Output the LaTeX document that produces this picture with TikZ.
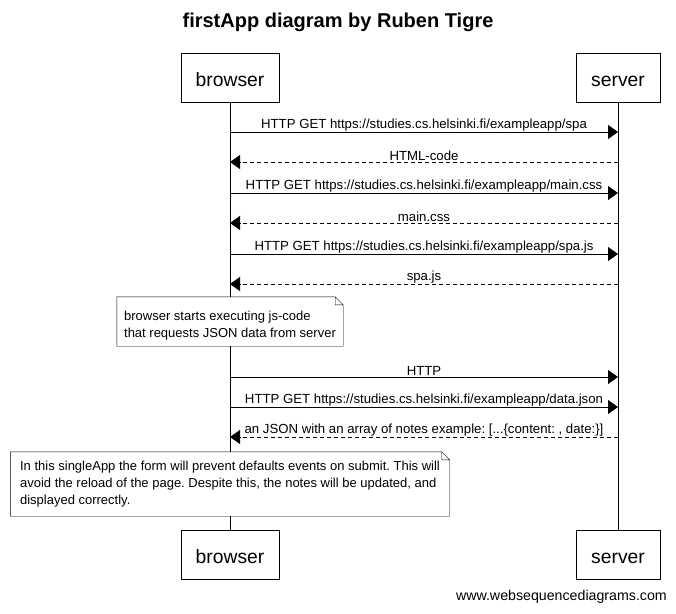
\documentclass[tikz,border=0pt]{standalone}
\usepackage{fontspec}
\setmainfont{Liberation Sans}
\usetikzlibrary{arrows.meta}
\usetikzlibrary{calc}
\usetikzlibrary{positioning}
\tikzset{>={Triangle[length=10pt,width=14pt]}}
\newcommand{\msgfont}{\fontsize{13.2}{17}\selectfont\frenchspacing}
\newcommand{\notefont}{\fontsize{13}{17}\selectfont\frenchspacing}

\begin{document}
\begin{tikzpicture}[x=1pt,y=-1pt,
  actor/.style={draw,rectangle,minimum height=49pt,text height=17pt,text depth=0pt,font=\fontsize{19.3}{23}\selectfont},
  req/.style={->},
  reply/.style={->,dash pattern=on 4pt off 3pt},
  msglabel/.style={font=\msgfont,inner sep=1pt},
  note/.style={fill=white,align=left,font=\notefont,anchor=center,inner sep=0pt}]

\useasboundingbox (0,0) rectangle (676,613);

\node (title) at (338,22) {\fontsize{20}{24}\selectfont\bfseries firstApp diagram by Ruben Tigre};

\node (browserTop) [actor,minimum width=98pt] at (230,77.5) {browser};
\node (serverTop) [actor,minimum width=84pt] at (618,77.5) {server};
\node (browserBot) [actor,minimum width=98pt] at (230,554.5) {browser};
\node (serverBot) [actor,minimum width=84pt] at (618,554.5) {server};

\draw (browserTop) -- (browserBot);
\draw (serverTop) -- (serverBot);

\foreach \y/\txt in {132/{HTTP GET https://studies.cs.helsinki.fi/exampleapp/spa},
                     193/{HTTP GET https://studies.cs.helsinki.fi/exampleapp/main.css},
                     254/{HTTP GET https://studies.cs.helsinki.fi/exampleapp/spa.js},
                     377/{HTTP},
                     407/{HTTP GET https://studies.cs.helsinki.fi/exampleapp/data.json}}
  \draw [req] (browserTop.south |- 0,\y) -- (serverTop.south |- 0,\y)
        node [midway,above,msglabel] {\txt};

\foreach \y/\txt in {162/{HTML-code},
                     223/{main.css},
                     284/{spa.js},
                     437/{an JSON with an array of notes example: [...\{content: , date:\}]}}
  \draw [reply] (serverTop.south |- 0,\y) -- (browserTop.south |- 0,\y)
        node [midway,above,msglabel] {\txt};

\node (note1) [note,minimum width=226pt,minimum height=49pt]
      at (browserTop.south |- 0,321.5) {\rule{0pt}{17pt}browser starts executing js-code\\that requests JSON data from server};
\node (note2) [note,minimum width=439pt,minimum height=64pt]
      at (browserTop.south |- 0,484) {In this singleApp the form will prevent defaults events on submit. This will\\avoid the reload of the page. Despite this, the notes will be updated, and\\displayed correctly.};

\foreach \n in {note1,note2}
  \draw (\n.north west) -- ($(\n.north east)+(-8,0)$) -- ($(\n.north east)+(0,8)$) -- (\n.south east) -- (\n.south west) -- cycle
        ($(\n.north east)+(-8,0)$) |- ($(\n.north east)+(0,8)$);

\node (footer) [anchor=east,inner sep=0pt,font=\fontsize{14.2}{17}\selectfont] at (667,597) {www.websequencediagrams.com};

\end{tikzpicture}
\end{document}
